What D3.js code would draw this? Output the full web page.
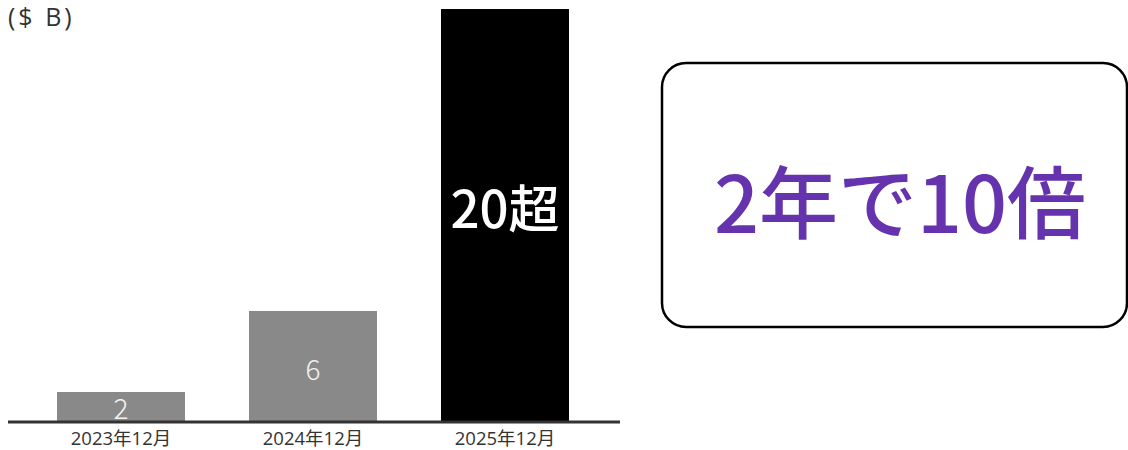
<!DOCTYPE html>
<html>
<head>
<meta charset="utf-8">
<script src="https://cdn.jsdelivr.net/npm/d3@7"></script>
<style>
  html, body { margin: 0; padding: 0; background: #fff; }
  svg { display: block; }
</style>
</head>
<body>
<svg id="chart" width="1128" height="450"></svg>
<script>
// Categories, values and the labels printed inside each bar
const categories = ["2023年12月", "2024年12月", "2025年12月"];
const values = [2, 6, 20.9];
const valueLabels = ["2", "6", "20超"];
const barColors = ["#898989", "#898989", "#000000"];
const unitLabel = "($ B)";
const calloutText = "2年で10倍";

const svg = d3.select("#chart");
const fontUi = "'Open Sans', 'Noto Sans CJK JP', sans-serif";
const fontCjk = "'Noto Sans CJK JP', 'Noto Sans', sans-serif";

const x = d3.scaleBand()
  .domain(categories)
  .range([25, 601])
  .paddingInner(1 / 3)
  .paddingOuter(1 / 6);

const y = d3.scaleLinear()
  .domain([0.52, 21])
  .range([422, 7]);

// Unit label in the top-left corner
svg.append("text")
  .attr("x", 8)
  .attr("y", 26)
  .attr("font-family", fontUi)
  .attr("font-size", 25)
  .attr("letter-spacing", 3)
  .attr("fill", "#333")
  .text(unitLabel);

// Bars
svg.selectAll("rect.bar")
  .data(categories)
  .join("rect")
  .attr("class", "bar")
  .attr("x", d => x(d))
  .attr("width", x.bandwidth())
  .attr("y", (d, i) => y(values[i]))
  .attr("height", (d, i) => y.range()[0] - y(values[i]))
  .attr("fill", (d, i) => barColors[i]);

// Value labels inside the bars
const labelSizes = [28, 28, 51];
const labelWeights = [300, 300, 500];
const labelY = [419, 380, 228];
svg.selectAll("text.value")
  .data(categories)
  .join("text")
  .attr("class", "value")
  .attr("x", d => x(d) + x.bandwidth() / 2)
  .attr("y", (d, i) => labelY[i])
  .attr("text-anchor", "middle")
  .attr("font-family", fontCjk)
  .attr("font-size", (d, i) => labelSizes[i])
  .attr("font-weight", (d, i) => labelWeights[i])
  .attr("fill", (d, i) => i < 2 ? "#f2f2f2" : "#ffffff")
  .text((d, i) => valueLabels[i]);

// Baseline axis with category labels
const axis = svg.append("g")
  .attr("transform", `translate(0, ${y.range()[0]})`)
  .call(d3.axisBottom(x).tickSize(0).tickPadding(10));
axis.select(".domain")
  .attr("d", "M8,0H620")
  .attr("stroke", "#333")
  .attr("stroke-width", 3);
axis.selectAll(".tick text")
  .attr("font-family", fontUi)
  .attr("font-size", 18.5)
  .attr("fill", "#333");

// Callout box
svg.append("rect")
  .attr("x", 662)
  .attr("y", 63)
  .attr("width", 465)
  .attr("height", 264)
  .attr("rx", 24)
  .attr("ry", 24)
  .attr("fill", "#fff")
  .attr("stroke", "#000")
  .attr("stroke-width", 2.5);

svg.append("text")
  .attr("x", 900)
  .attr("y", 233)
  .attr("text-anchor", "middle")
  .attr("font-family", fontCjk)
  .attr("font-size", 79)
  .attr("font-weight", 500)
  .attr("fill", "#6533ad")
  .text(calloutText);
</script>
</body>
</html>
